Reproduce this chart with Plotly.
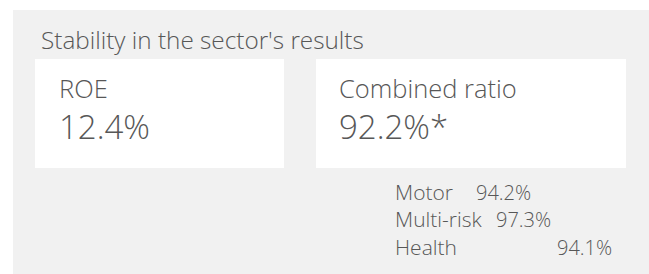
import plotly.graph_objects as go

# ---- data ----
title_text = "Stability in the sector's results"
kpi_labels = ["ROE", "Combined ratio"]
kpi_values = ["12.4%", "92.2%*"]
lob_labels = ["Motor", "Multi-risk", "Health"]
lob_values = ["94.2%", "97.3%", "94.1%"]

# ---- layout (pixel space) ----
W, H = 649, 274
FONT = "Open Sans"
TXT = "#575757"
panel = dict(x0=13, y0=10, x1=649, y1=274)
boxes = [dict(x0=35, y0=59, x1=284, y1=168), dict(x0=316, y0=59, x1=626, y1=168)]
kpi_x = [57, 337]
lob_label_x = 393
lob_value_x = [474, 494, 555]
lob_y = [192, 219, 247]

fig = go.Figure()
fig.add_trace(go.Scatter(x=[0, W], y=[0, H], mode="markers", marker=dict(opacity=0),
                         hoverinfo="skip", showlegend=False))

shapes = [dict(type="rect", xref="x", yref="y", layer="below", line=dict(width=0),
               fillcolor="#f1f1f1", **panel)]
for b in boxes:
    shapes.append(dict(type="rect", xref="x", yref="y", layer="below", line=dict(width=0),
                       fillcolor="#ffffff", **b))

ann = []
def add(text, x, y, size):
    ann.append(dict(text=text, x=x, y=y, xref="x", yref="y", xanchor="left", yanchor="middle",
                    showarrow=False, font=dict(family=FONT, size=size, color=TXT, weight=300)))

add(title_text, 39, 39, 24.3)
for i in range(2):
    add(kpi_labels[i], kpi_x[i], 88, 25.5)
    add(kpi_values[i], kpi_x[i], 126, 33)
for i in range(3):
    add(lob_labels[i], lob_label_x, lob_y[i], 21)
    add(lob_values[i], lob_value_x[i], lob_y[i], 20)

fig.update_layout(
    width=W, height=H, margin=dict(l=0, r=0, t=0, b=0),
    paper_bgcolor="white", plot_bgcolor="white",
    xaxis=dict(range=[0, W], visible=False, fixedrange=True),
    yaxis=dict(range=[H, 0], visible=False, fixedrange=True),
    shapes=shapes, annotations=ann, showlegend=False,
)
fig.write_html("out.html", config={"displayModeBar": False},
               post_script="document.body.style.margin='0';")
